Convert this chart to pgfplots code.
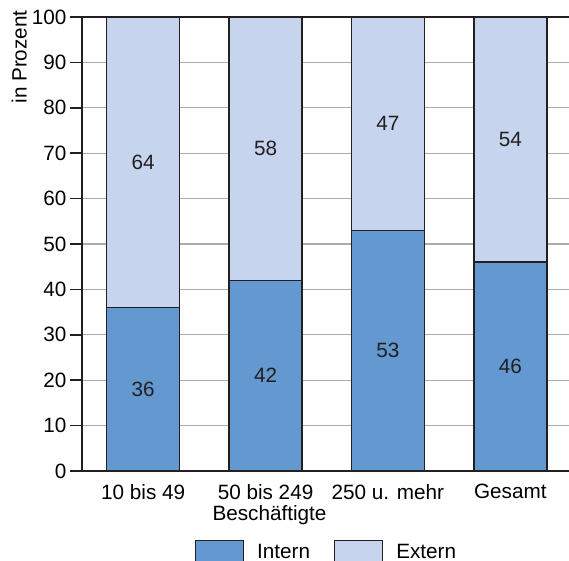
\documentclass[border=0pt]{standalone}
\usepackage{fontspec}
\setmainfont{Liberation Sans}
\usepackage{pgfplots}
\pgfplotsset{compat=1.18}
\usepackage{pgfplotstable}

\definecolor{intern}{HTML}{6498D0}
\definecolor{extern}{HTML}{C6D4ED}
\definecolor{edge}{HTML}{231F20}
\definecolor{gridc}{HTML}{ABABAB}

% Anteile in Prozent je Unternehmensgröße
\pgfplotstableread{
x intern extern
0 36 64
1 42 58
2 53 47
3 46 54
}\anteile

\begin{document}
\begin{tikzpicture}[font=\fontsize{20.7}{24.5}\selectfont]
\begin{axis}[
  scale only axis, width=487pt, height=454pt,
  xmin=-0.5, xmax=3.48, ymin=0, ymax=100,
  axis y line*=left,
  axis line style={edge, line width=1.8pt},
  xtick={0,1,2,3},
  xticklabels={10 bis 49, 50 bis 249, 250 u. mehr, Gesamt},
  xtick style={draw=none},
  xticklabel style={anchor=north, inner sep=0pt, yshift=-1pt},
  ytick={0,10,...,100},
  ytick pos=left,
  tick align=outside,
  major tick length=12pt,
  ytick style={edge, line width=1.5pt},
  /pgf/number format/assume math mode=true,
  ymajorgrids,
  grid style={gridc, line width=1.3pt},
  ylabel={in Prozent},
  ylabel style={at={(axis description cs:-0.113,1.015)}, anchor=south east, inner sep=0pt},
  xlabel={Beschäftigte},
  xlabel style={at={(axis description cs:0.385,0)}, anchor=north, inner sep=0pt, yshift=-34pt},
  legend style={at={(axis description cs:0.5,0)}, anchor=north, yshift=-69pt,
    draw=none, fill=none, inner sep=0pt, nodes={inner sep=0pt},
    /tikz/every odd column/.append style={column sep=13pt},
    /tikz/every even column/.append style={column sep=24pt}},
  legend columns=2,
  legend cell align=left,
]
\addlegendimage{legend image code/.code={\draw[fill=intern, draw=edge, line width=1.2pt] (0pt,-14pt) rectangle (48pt,11pt);}}
\addlegendentry{Intern}
\addlegendimage{legend image code/.code={\draw[fill=extern, draw=edge, line width=1.2pt] (0pt,-14pt) rectangle (48pt,11pt);}}
\addlegendentry{Extern}

% gestapelte Balken: Extern über Intern bis zur Summe
\addplot[ybar, bar width=73pt, bar shift=0pt, fill=extern, draw=edge, line width=1.5pt, forget plot]
  table[x=x, y expr=\thisrow{intern}+\thisrow{extern}] {\anteile};
\addplot[ybar, bar width=73pt, bar shift=0pt, fill=intern, draw=edge, line width=1.5pt, forget plot]
  table[x=x, y=intern] {\anteile};

% Werte in der Mitte der Segmente
\addplot[draw=none, forget plot, nodes near coords, point meta=explicit symbolic,
  every node near coord/.style={anchor=center, text=edge}]
  table[x=x, y expr=0.5*\thisrow{intern}, meta=intern] {\anteile};
\addplot[draw=none, forget plot, nodes near coords, point meta=explicit symbolic,
  every node near coord/.style={anchor=center, text=edge}]
  table[x=x, y expr=\thisrow{intern}+0.5*\thisrow{extern}, meta=extern] {\anteile};

\coordinate (bl) at (rel axis cs:0,0);
\coordinate (tr) at (rel axis cs:1,1);
\end{axis}
\pgfresetboundingbox
\path[use as bounding box] ([xshift=-82pt,yshift=-89pt]bl) rectangle ([yshift=17pt]tr);
\end{tikzpicture}
\end{document}
